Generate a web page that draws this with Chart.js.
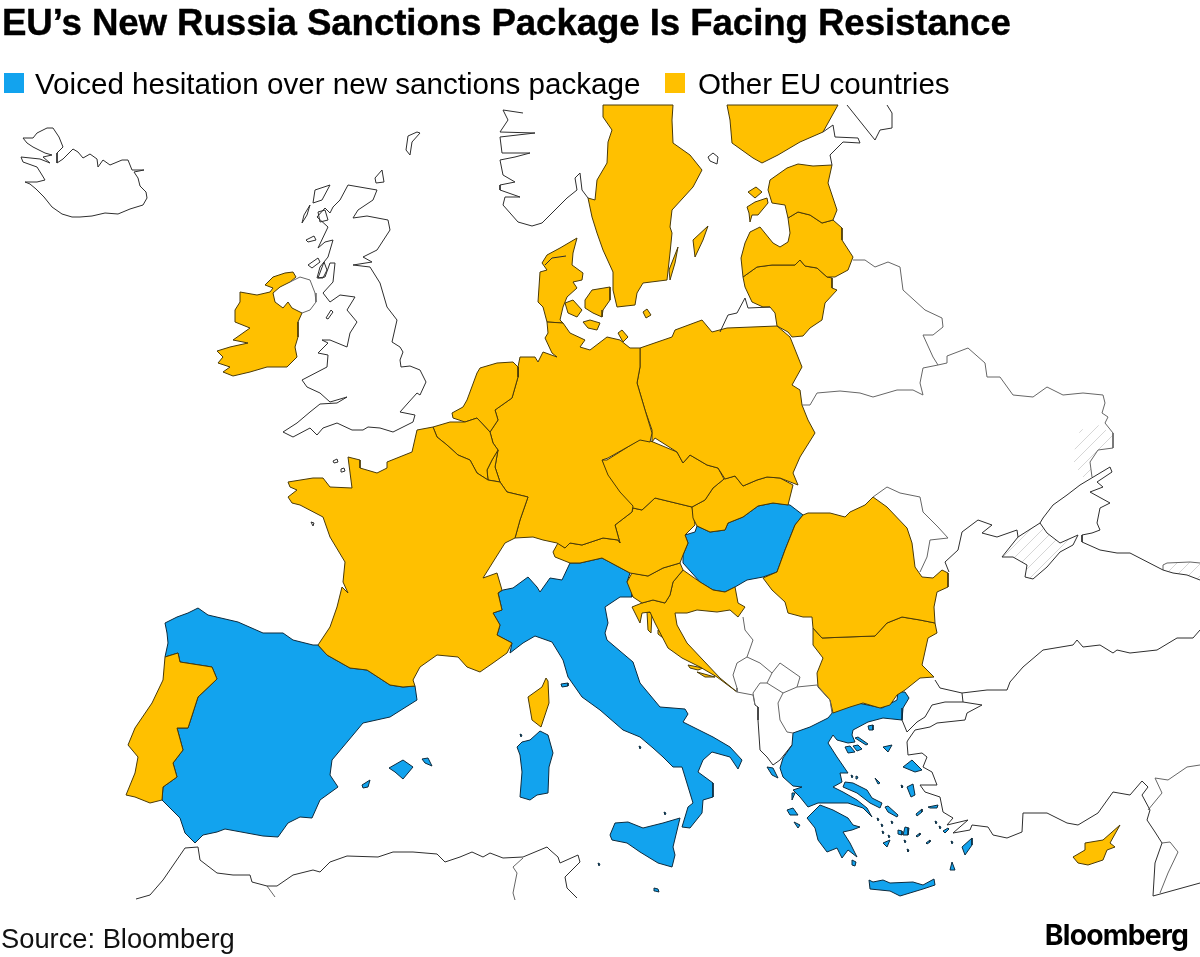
<!DOCTYPE html>
<html>
<head>
<meta charset="utf-8">
<title>EU's New Russia Sanctions Package Is Facing Resistance</title>
<script src="https://cdn.jsdelivr.net/npm/chart.js@4"></script>
<style>
  html, body { margin: 0; background: #fff; }
  body { width: 1200px; height: 957px; position: relative; overflow: hidden; font-family: "Liberation Sans", Arial, sans-serif; color: #000; }
  #map { position: absolute; left: 0; top: 0; }
  #title { position: absolute; left: 2px; top: 1px; font-size: 36.7px; line-height: 44px; font-weight: 700; white-space: nowrap; letter-spacing: -0.1px; -webkit-text-stroke: 0.4px #000; }
  #legend { position: absolute; left: 0; top: 66px; height: 36px; font-size: 29.6px; line-height: 36px; white-space: nowrap; }
  #legend span { position: absolute; top: 0; }
  #legend i { position: absolute; top: 7px; width: 20px; height: 20px; }
  #source { position: absolute; left: 1px; top: 922px; font-size: 27.3px; line-height: 34px; color: #111; }
  #brand { position: absolute; right: 12px; top: 917px; font-size: 28.3px; line-height: 36px; font-weight: 700; font-family: Inter, "Liberation Sans", sans-serif; letter-spacing: -0.8px; }
</style>
</head>
<body>
<canvas id="map" width="1200" height="957"></canvas>
<div id="title">EU’s New Russia Sanctions Package Is Facing Resistance</div>
<div id="legend"></div>
<div id="source">Source: Bloomberg</div>
<div id="brand">Bloomberg</div>
<script>
const BLUE = '#12a3ee';
const GOLD = '#ffc000';

const legendLabels = ['Voiced hesitation over new sanctions package', 'Other EU countries'];
const legendColors = [BLUE, GOLD];
const legendBoxX = [4, 665];
const legendTextX = [35, 698];

// outlines, in map units (x right, y down)
const spain = [[165,623],[177,617],[188,613],[198,608],[208,615],[238,622],[263,633],[283,633],[293,640],[313,645],[318,645],[327,655],[350,668],[367,670],[390,685],[403,687],[415,686],[417,700],[390,717],[363,723],[353,735],[332,760],[330,775],[338,787],[320,800],[312,818],[300,817],[288,823],[278,837],[263,836],[225,829],[217,832],[203,835],[195,843],[185,833],[180,818],[162,800],[163,787],[177,777],[173,763],[183,750],[177,728],[188,728],[198,697],[217,679],[212,667],[180,662],[178,653],[165,657],[168,643],[167,633]];
const mallorca = [[389,768],[403,760],[413,767],[403,779],[395,772]];
const menorca = [[422,759],[428,758],[432,766],[425,763]];
const ibiza = [[362,785],[370,780],[368,787],[363,788]];
const italy = [[503,590],[513,588],[528,577],[537,587],[540,592],[550,578],[562,580],[570,563],[580,563],[602,558],[630,573],[627,582],[632,588],[632,597],[620,597],[605,607],[608,623],[605,633],[607,640],[633,662],[640,683],[660,707],[685,709],[688,714],[683,722],[713,737],[730,747],[742,760],[738,769],[730,757],[712,752],[703,760],[698,772],[713,783],[713,797],[703,800],[702,813],[690,828],[682,827],[688,807],[693,803],[682,767],[673,767],[663,757],[653,748],[640,737],[623,730],[600,710],[582,697],[568,677],[563,660],[552,642],[535,636],[523,643],[510,653],[512,643],[497,635],[500,625],[493,613],[502,610],[498,593]];
const sicily = [[610,835],[615,823],[628,822],[643,828],[663,823],[680,818],[673,847],[675,855],[672,867],[658,863],[640,852],[627,843],[612,840]];
const sardinia = [[517,747],[522,742],[530,740],[540,731],[548,735],[553,753],[549,767],[548,793],[537,795],[530,800],[520,797],[522,772],[520,755]];
const elba = [[561,684],[568,683],[568,686],[562,687]];
const malta = [[654,888],[658,889],[659,892],[655,891]];
const hungary = [[697,526],[710,532],[725,530],[728,523],[743,517],[758,506],[773,503],[790,505],[803,515],[795,525],[785,550],[777,572],[763,577],[747,580],[735,587],[725,592],[713,590],[700,582],[683,563],[683,555],[688,543],[685,535],[695,532]];
const greece = [[833,712],[858,703],[882,708],[897,700],[898,692],[905,692],[909,698],[903,708],[902,720],[883,718],[868,722],[853,730],[852,735],[855,742],[848,743],[837,740],[833,735],[828,743],[837,757],[848,773],[840,773],[842,782],[833,787],[843,792],[857,800],[867,808],[872,817],[863,808],[848,803],[833,803],[818,803],[808,807],[800,797],[793,790],[802,787],[793,786],[783,777],[780,768],[783,758],[792,745],[793,733],[810,727],[828,718]];
const peloponnese = [[807,818],[820,805],[833,810],[848,818],[853,825],[860,827],[852,830],[843,832],[850,843],[857,857],[848,850],[842,858],[837,848],[827,852],[818,840],[815,828]];
const euboea = [[845,782],[853,783],[867,790],[872,798],[882,803],[880,808],[870,803],[857,793],[843,787]];
const crete = [[869,880],[873,882],[883,880],[890,883],[913,882],[923,885],[934,879],[935,885],[923,889],[900,896],[890,891],[870,889]];
const lesbos = [[903,767],[912,760],[922,770],[915,772]];
const chios = [[907,787],[913,784],[915,795],[911,797]];
const samos = [[928,807],[938,805],[937,808],[930,808]];
const rhodes = [[962,847],[972,838],[972,845],[965,855]];
const karpathos = [[952,862],[955,870],[950,870]];
const lemnos = [[883,747],[892,745],[888,752]];
const thasos = [[868,726],[873,725],[873,730],[869,730]];
const skyros = [[875,778],[880,783],[878,784]];
const andros = [[885,807],[888,806],[898,815],[897,817],[888,812]];
const ikaria = [[916,814],[922,809],[922,812],[917,816]];
const naxos = [[905,827],[909,828],[908,835],[903,835]];
const paros = [[898,830],[902,831],[902,835],[898,834]];
const milos = [[883,843],[890,840],[887,847]];
const kythira = [[852,860],[856,862],[855,866],[852,865]];
const corfu = [[767,767],[773,768],[778,778],[772,775]];
const kefalonia = [[787,810],[793,808],[798,815],[790,815]];
const zakynthos = [[794,822],[800,825],[798,828]];
const lefkada = [[792,793],[795,793],[792,800]];
const chalkidikiA = [[845,747],[850,746],[855,752],[848,753]];
const chalkidikiB = [[853,746],[858,745],[862,749],[857,751]];
const chalkidikiC = [[855,738],[858,737],[868,744],[866,745]];
// small islets, as tiny outlines
const isletA = [[935,821],[937,822],[936,824]];
const isletB = [[939,826],[941,827],[940,829]];
const kos = [[943,831],[948,828],[949,829],[945,833]];
const isletC = [[951,841],[953,842],[952,844]];
const isletD = [[926,843],[930,840],[930,842],[927,844]];
const isletE = [[916,836],[920,833],[920,835],[917,837]];
const isletF = [[907,849],[909,850],[908,852]];
const isletG = [[904,840],[906,841],[905,843]];
const isletH = [[888,835],[890,836],[889,838]];
const isletI = [[882,831],[884,832],[883,834]];
const isletJ = [[891,821],[893,822],[892,824]];
const isletK = [[881,824],[883,825],[882,827]];
const isletL = [[877,818],[879,819],[878,821]];
const isletM = [[901,785],[903,786],[902,788]];
const isletN = [[851,775],[853,776],[852,778]];
const isletO = [[856,776],[858,777],[857,779]];
const pantelleria = [[598,863],[600,864],[599,866]];
const ustica = [[664,812],[666,813],[665,815]];
const ponza = [[639,746],[641,747],[640,749]];
const asinara = [[520,734],[522,735],[521,737]];

const portugal = [[165,657],[178,653],[180,662],[212,667],[217,679],[198,697],[188,728],[177,728],[183,750],[173,763],[177,777],[163,787],[162,800],[150,803],[135,797],[126,795],[135,773],[138,757],[128,745],[135,728],[152,703],[163,680]];
const france = [[288,482],[313,478],[323,478],[330,487],[352,488],[348,457],[360,460],[360,468],[377,473],[387,468],[387,462],[412,452],[417,430],[433,427],[437,437],[447,445],[458,455],[470,460],[477,473],[488,480],[500,482],[507,492],[528,497],[520,520],[515,538],[505,543],[493,562],[483,578],[497,573],[502,590],[498,593],[502,610],[493,613],[500,625],[497,635],[512,643],[507,653],[493,663],[480,672],[467,667],[458,657],[437,655],[420,667],[413,680],[415,686],[403,687],[390,685],[367,670],[350,668],[327,655],[318,645],[330,627],[337,607],[342,587],[348,593],[343,582],[345,562],[330,537],[323,517],[300,505],[292,503],[288,497],[297,490],[290,487]];
const corsica = [[528,697],[542,687],[546,678],[548,681],[549,703],[541,727],[532,720]];
const belgium = [[433,427],[450,422],[465,422],[477,418],[490,432],[493,443],[498,450],[492,460],[487,470],[488,480],[477,473],[470,460],[458,455],[447,445],[437,437]];
const luxembourg = [[492,460],[498,450],[495,467],[500,482],[488,480],[487,470]];
const netherlands = [[467,400],[477,373],[480,368],[497,363],[513,362],[518,367],[518,377],[512,398],[495,410],[498,420],[490,432],[477,418],[465,422],[453,418],[452,413],[463,407]];
const germany = [[640,348],[630,348],[620,340],[607,337],[590,350],[580,347],[585,340],[570,333],[563,323],[547,322],[548,333],[545,338],[552,353],[557,357],[543,352],[538,362],[535,357],[520,357],[518,367],[518,377],[512,398],[495,410],[498,420],[490,432],[493,443],[498,450],[495,467],[500,482],[507,492],[528,497],[520,520],[515,538],[533,537],[543,540],[557,543],[565,548],[570,543],[582,545],[603,538],[618,540],[620,543],[615,525],[632,512],[633,506],[620,492],[608,475],[602,460],[608,458],[640,440],[650,442],[652,433],[645,410],[637,383],[640,367]];
const poland = [[640,348],[672,337],[675,330],[702,320],[712,332],[727,328],[777,326],[790,337],[802,367],[792,385],[800,390],[802,405],[808,420],[815,433],[800,457],[793,473],[798,485],[780,478],[767,477],[757,480],[743,486],[735,476],[725,479],[718,468],[707,465],[690,455],[683,463],[677,452],[655,438],[652,442],[652,430],[645,410],[637,383],[640,367]];
const czechia = [[602,460],[607,460],[642,438],[653,442],[677,452],[683,463],[690,455],[707,465],[718,468],[724,479],[713,488],[705,500],[692,507],[655,498],[642,510],[633,508],[622,495],[608,482]];
const slovakia = [[692,507],[705,500],[713,488],[724,479],[735,476],[743,486],[757,480],[767,477],[780,478],[793,485],[788,505],[773,503],[758,506],[743,517],[728,523],[725,530],[710,532],[697,526],[693,518]];
const austria = [[633,508],[642,510],[655,498],[692,507],[695,525],[685,535],[688,543],[683,555],[680,563],[663,568],[648,576],[630,573],[602,558],[580,563],[570,563],[555,557],[553,552],[558,543],[565,548],[570,543],[582,545],[603,538],[618,540],[620,543],[615,525],[632,512]];
const slovenia = [[632,573],[648,576],[663,568],[680,563],[683,570],[673,582],[670,595],[665,603],[653,600],[642,603],[633,597],[627,582]];
const croatia = [[683,570],[700,582],[713,590],[725,592],[735,587],[738,603],[745,607],[738,617],[730,610],[717,612],[697,610],[687,613],[675,613],[677,625],[687,643],[703,660],[720,678],[737,692],[717,677],[700,667],[682,658],[668,648],[655,623],[650,612],[642,613],[640,623],[632,607],[642,603],[653,600],[665,603],[670,595],[673,582]];
const krk = [[647,612],[652,613],[651,633],[648,630]];
const pag = [[658,630],[668,639],[667,641],[658,634]];
const brac = [[688,665],[703,668],[698,670],[690,668]];
const korcula = [[697,672],[715,677],[705,677]];
const romania = [[803,515],[808,513],[830,513],[845,517],[850,512],[865,505],[873,497],[887,507],[907,528],[912,543],[915,567],[922,577],[933,578],[942,570],[948,573],[948,587],[937,592],[934,607],[935,623],[920,620],[902,617],[887,623],[875,636],[847,637],[822,638],[813,628],[812,617],[803,617],[788,613],[785,602],[772,590],[763,578],[777,572],[785,550],[795,525]];
const bulgaria = [[813,628],[822,638],[847,637],[875,636],[887,623],[902,617],[920,620],[935,623],[937,633],[928,638],[922,665],[934,677],[920,678],[905,690],[897,695],[890,705],[880,708],[863,703],[850,707],[833,713],[830,700],[818,687],[817,673],[823,658],[813,645]];
const ireland = [[265,285],[273,277],[285,273],[293,272],[296,277],[290,282],[280,287],[273,293],[275,302],[283,308],[288,302],[292,308],[302,313],[298,322],[298,337],[295,347],[297,357],[287,367],[267,367],[250,372],[233,376],[223,372],[230,367],[218,363],[223,357],[217,351],[230,347],[248,343],[233,340],[250,328],[235,322],[235,310],[240,302],[240,292],[257,295],[270,292],[273,288]];
const sweden = [[603,105],[673,105],[672,120],[673,143],[690,155],[702,170],[693,187],[683,198],[672,210],[670,227],[672,233],[670,253],[667,280],[643,283],[637,293],[635,305],[617,307],[613,290],[613,272],[603,250],[597,233],[592,217],[588,198],[595,200],[597,180],[607,163],[608,142],[612,130],[603,117]];
const gotland = [[693,240],[708,226],[703,240],[695,257]];
const oland = [[678,247],[675,263],[670,280],[669,270]];
const finland = [[727,105],[838,105],[823,132],[800,142],[778,155],[762,163],[753,158],[732,143],[730,120]];
const estonia = [[832,165],[828,183],[837,210],[833,220],[822,223],[810,215],[798,212],[788,218],[785,205],[772,203],[768,190],[770,180],[787,168],[798,164],[813,166]];
const hiiumaa = [[748,192],[756,187],[762,192],[755,198]];
const saaremaa = [[747,207],[755,202],[767,198],[768,203],[758,215],[752,215],[750,222],[749,213]];
const latvia = [[788,218],[798,212],[810,215],[822,223],[833,220],[842,228],[842,240],[853,257],[848,270],[835,277],[827,277],[817,268],[805,266],[800,260],[795,265],[772,265],[757,267],[743,277],[741,258],[745,243],[750,232],[760,227],[773,243],[780,247],[788,242],[790,233]];
const lithuania = [[743,277],[757,267],[772,265],[795,265],[800,260],[805,266],[817,268],[827,277],[832,278],[832,288],[837,290],[825,303],[822,320],[810,328],[803,336],[792,337],[788,332],[777,326],[775,313],[770,307],[763,307],[752,302],[745,287]];
const jutland = [[538,302],[540,272],[547,270],[542,263],[547,255],[560,248],[577,238],[573,253],[572,265],[583,273],[582,280],[573,282],[577,288],[567,297],[563,307],[560,320],[563,323],[547,322],[543,307]];
const fyn = [[565,303],[573,300],[582,310],[577,317],[568,313]];
const zealand = [[585,300],[592,290],[610,287],[610,300],[603,310],[602,317],[593,313],[585,308]];
const lolland = [[583,322],[590,320],[600,323],[597,330],[588,328]];
const bornholm = [[643,312],[647,309],[651,315],[646,318]];
const rugen = [[618,333],[622,330],[628,337],[623,342]];
const cyprus = [[1073,857],[1085,850],[1085,843],[1103,840],[1120,825],[1110,843],[1115,847],[1107,850],[1103,860],[1088,865],[1078,863]];

const crimea = [[1018,537],[1040,523],[1047,533],[1060,543],[1078,535],[1073,545],[1060,552],[1047,567],[1033,579],[1025,577],[1027,565],[1013,557],[1002,557]];
const donbas = [[1080,430],[1098,425],[1113,435],[1113,448],[1098,450],[1090,462],[1092,477],[1082,477],[1073,460],[1075,448]];
const abkhazia = [[1163,565],[1167,563],[1190,562],[1200,563],[1200,580],[1187,575],[1173,573],[1163,570]];

// coasts and borders of countries outside the EU
const iceland = [[25,182],[37,182],[45,180],[42,175],[37,167],[23,162],[21,157],[40,159],[50,163],[43,157],[52,155],[45,153],[33,147],[27,143],[23,138],[33,138],[37,133],[47,128],[53,128],[59,137],[63,147],[57,153],[57,163],[63,159],[73,149],[78,152],[83,158],[90,154],[97,159],[98,167],[103,160],[110,165],[122,160],[128,160],[132,170],[144,170],[134,172],[138,178],[140,186],[146,192],[147,198],[143,205],[130,209],[118,214],[105,213],[92,216],[80,217],[72,217],[62,214],[52,207],[44,197],[36,189],[30,184],[25,182]];
const britain = [[348,185],[377,190],[373,200],[358,210],[353,218],[367,216],[388,220],[390,230],[377,250],[363,257],[372,262],[353,265],[370,267],[380,283],[387,307],[397,320],[392,342],[400,347],[403,352],[400,360],[401,367],[410,366],[420,370],[426,382],[420,395],[417,393],[408,403],[400,412],[415,415],[413,422],[393,432],[380,428],[368,427],[363,430],[352,430],[337,423],[323,428],[317,435],[310,428],[293,437],[283,432],[297,423],[310,412],[320,404],[337,403],[347,397],[330,402],[320,393],[307,387],[302,380],[327,367],[328,355],[318,353],[328,343],[322,340],[330,340],[347,347],[350,333],[357,322],[347,310],[355,297],[340,295],[330,302],[323,293],[333,282],[335,263],[330,263],[325,277],[317,278],[320,267],[328,257],[333,240],[325,242],[318,248],[328,227],[317,217],[325,208],[330,213],[333,207],[340,200],[348,185]];
const northernIreland = [[290,282],[300,277],[310,280],[315,293],[316,302],[310,310],[302,313]];
const lewis = [[330,185],[315,190],[313,203],[322,200],[330,185]];
const uist = [[302,223],[304,215],[310,205],[307,215],[302,223]];
const skye = [[318,212],[325,210],[328,220],[320,222],[318,212]];
const mull = [[306,240],[314,236],[316,240],[308,242],[306,240]];
const islay = [[308,265],[318,258],[320,262],[312,268],[308,265]];
const arran = [[318,278],[324,262],[327,270],[323,278],[318,278]];
const orkney = [[375,178],[382,170],[384,182],[376,183],[375,178]];
const man = [[326,318],[331,310],[333,312],[328,319],[326,318]];
const jersey = [[333,461],[337,459],[338,462],[334,463],[333,461]];
const guernsey = [[341,469],[344,468],[345,471],[342,472],[341,469]];
const oleron = [[311,522],[314,523],[313,526],[311,522]];
const norway = [[523,113],[503,110],[508,120],[500,132],[535,133],[500,137],[502,153],[530,153],[515,157],[500,160],[503,175],[515,182],[500,185],[500,190],[520,197],[505,197],[503,205],[518,222],[532,226],[542,223],[557,208],[567,198],[577,190],[575,178],[580,173],[582,190],[588,198]];
const shetland = [[408,136],[417,132],[420,133],[412,142],[410,155],[406,150],[408,136]];
const aland = [[708,157],[713,153],[718,157],[717,164],[710,161],[708,157]];
const limfjord = [[545,265],[552,258],[566,256]];
const kaliningrad = [[720,332],[728,315],[737,313],[745,298],[748,308],[770,307]];
const kolaLine = [[847,105],[867,130],[875,140],[880,130],[892,128],[892,113],[887,105]];
const gulfFinland = [[823,132],[833,125],[835,137],[858,138],[860,143],[843,142],[830,155],[832,165]];
const belarus = [[853,260],[865,260],[875,267],[888,262],[900,267],[903,290],[925,310],[942,318],[943,327],[933,335],[923,335],[933,357],[938,365],[923,368],[920,383],[923,395],[913,390],[897,390],[873,397],[860,393],[840,391],[817,393],[810,405],[802,405]];
const ukraineNorth = [[938,365],[947,363],[947,356],[968,348],[985,363],[987,377],[1000,377],[1013,395],[1033,397],[1047,387],[1063,395],[1083,393],[1103,395],[1105,403],[1102,413],[1108,417],[1105,423],[1113,433],[1113,448],[1098,450],[1090,462],[1092,477]];
const azovNorth = [[1110,467],[1112,472],[1097,482],[1103,487],[1090,492],[1110,503],[1100,508],[1097,523],[1100,530],[1092,533],[1082,535],[1082,542],[1100,550],[1117,553],[1130,553],[1163,570],[1173,573],[1187,575],[1200,580]];
const azovCoast = [[1110,467],[1080,485],[1067,495],[1053,505],[1043,518],[1040,523]];
const crimeaCoast = [[1018,537],[1040,523],[1047,533],[1060,543],[1078,535],[1073,545],[1060,552],[1047,567],[1033,579],[1025,577],[1027,565],[1013,557],[1002,557],[1018,537]];
const ukraineCoast = [[1018,537],[1017,530],[997,537],[982,533],[992,525],[978,520],[962,532],[958,550],[945,562],[949,572]];
const abkhaziaLine = [[1163,570],[1163,565],[1167,563],[1190,562],[1200,563]];
const moldova = [[873,497],[887,487],[900,493],[920,497],[923,512],[938,527],[948,538],[930,540],[927,557],[920,572]];
const turkeyNorth = [[935,680],[940,688],[962,693],[987,690],[1007,690],[1010,682],[1023,667],[1043,650],[1073,645],[1077,640],[1083,647],[1100,645],[1113,653],[1117,650],[1130,653],[1157,650],[1177,638],[1193,638],[1200,630]];
const thrace = [[962,693],[963,702],[982,705],[967,713],[965,720],[937,723],[930,727],[915,730],[908,740],[907,742],[908,755],[922,753],[927,757],[923,767],[932,772],[937,785],[920,785],[925,792],[940,797],[943,812],[953,818],[947,825],[968,820],[953,833],[970,830],[972,825],[988,827],[993,835],[1007,838],[1022,832],[1023,813],[1047,813],[1067,823],[1078,825],[1098,813],[1113,792],[1130,795],[1142,781],[1148,787],[1142,795],[1150,810],[1147,820],[1155,832],[1162,843],[1155,863],[1153,896],[1200,883]];
const europeanTurkey = [[963,702],[945,702],[932,705],[925,717],[917,722],[907,732],[902,720]];
const syria = [[1148,810],[1162,793],[1155,778],[1168,780],[1187,767],[1200,765]];
const lebanon = [[1162,843],[1170,842],[1178,852],[1168,873],[1160,893]];
const bosniaSerbia = [[743,617],[745,630],[753,640],[747,657]];
const montenegro = [[747,657],[737,663],[733,675],[737,688],[737,692],[753,695],[755,705]];
const montenegroEast = [[747,657],[760,663],[772,673],[767,683],[760,683],[753,693],[755,705]];
const kosovo = [[772,673],[780,663],[800,677],[797,687],[783,693],[767,683]];
const macedonia = [[797,687],[817,685],[830,700],[832,713]];
const macedoniaWest = [[783,693],[778,703],[780,720],[787,732],[793,733]];
const albania = [[755,705],[758,707],[758,720],[760,750],[767,757],[773,765],[780,760],[792,745]];
const morocco = [[136,899],[150,895],[163,880],[185,848],[198,847],[200,860],[217,873],[233,875],[250,875],[252,882],[267,886],[277,886],[293,875],[313,870],[320,872],[330,862],[347,856],[378,857],[393,852],[413,852],[437,854],[445,862],[460,857],[472,852],[483,857],[490,853],[503,858],[523,857],[547,847],[550,850],[558,857],[560,863],[578,855],[580,862],[565,877],[567,888],[577,898]];
const moroccoAlgeria = [[267,886],[275,897]];
const algeriaTunisia = [[523,858],[513,867],[517,873],[513,893],[515,900]];

const hesitantShapes = [spain, mallorca, menorca, ibiza, italy, sicily, sardinia, elba, malta, hungary, greece, peloponnese, euboea, crete, lesbos, chios, samos, rhodes, karpathos, lemnos, thasos, skyros, andros, ikaria, naxos, paros, milos, kythira, corfu, kefalonia, zakynthos, lefkada, chalkidikiA, chalkidikiB, chalkidikiC, isletA, isletB, kos, isletC, isletD, isletE, isletF, isletG, isletH, isletI, isletJ, isletK, isletL, isletM, isletN, isletO, pantelleria, ustica, ponza, asinara];
const otherEuShapes = [portugal, france, corsica, belgium, luxembourg, netherlands, germany, poland, czechia, slovakia, austria, slovenia, croatia, krk, pag, brac, korcula, romania, bulgaria, ireland, sweden, gotland, oland, finland, estonia, hiiumaa, saaremaa, latvia, lithuania, jutland, fyn, zealand, lolland, bornholm, rugen, cyprus];
const hatchedShapes = [crimea, donbas, abkhazia];
const coastLines = [iceland, britain, lewis, uist, skye, mull, islay, arran, orkney, man, jersey, guernsey, oleron, norway, shetland, aland, limfjord, kaliningrad, kolaLine, gulfFinland, azovNorth, azovCoast, crimeaCoast, ukraineCoast, turkeyNorth, thrace, europeanTurkey, morocco, albania];
const borderLines = [northernIreland, belarus, ukraineNorth, abkhaziaLine, moldova, syria, lebanon, bosniaSerbia, montenegro, montenegroEast, kosovo, macedonia, macedoniaWest, moroccoAlgeria, algeriaTunisia];

function toPoints(shape, closed) {
  const points = shape.map(p => ({ x: p[0], y: p[1] }));
  if (closed) points.push(points[0]);
  return points;
}

// diagonal grey stripes for the disputed areas
function hatchPattern() {
  const tile = document.createElement('canvas');
  tile.width = tile.height = 12;
  const c = tile.getContext('2d');
  c.strokeStyle = '#d6d6d6';
  c.lineWidth = 1;
  c.beginPath();
  c.moveTo(-1, 13); c.lineTo(13, -1);
  c.moveTo(-1, 1); c.lineTo(1, -1);
  c.moveTo(11, 13); c.lineTo(13, 11);
  c.stroke();
  return document.createElement('canvas').getContext('2d').createPattern(tile, 'repeat');
}

const datasets = [];
coastLines.forEach(s => datasets.push({ data: toPoints(s, false), borderColor: '#2e2e2e', borderWidth: 1, fill: false, order: 1 }));
borderLines.forEach(s => datasets.push({ data: toPoints(s, false), borderColor: '#666666', borderWidth: 1, fill: false, order: 1 }));
const hatch = hatchPattern();
hatchedShapes.forEach(s => datasets.push({ data: toPoints(s, true), borderColor: 'rgba(0,0,0,0)', borderWidth: 0, backgroundColor: hatch, fill: 'shape', order: 4 }));
otherEuShapes.forEach(s => datasets.push({ data: toPoints(s, true), borderColor: '#4a3a08', borderWidth: 1, backgroundColor: GOLD, fill: 'shape', order: 2 }));
hesitantShapes.forEach(s => datasets.push({ data: toPoints(s, true), borderColor: '#0c2a3d', borderWidth: 1, backgroundColor: BLUE, fill: 'shape', order: 3 }));

new Chart(document.getElementById('map'), {
  type: 'scatter',
  data: { datasets },
  options: {
    responsive: false,
    animation: false,
    events: [],
    layout: { padding: 0 },
    showLine: true,
    elements: { point: { radius: 0 }, line: { tension: 0, borderJoinStyle: 'round' } },
    plugins: { legend: { display: false }, title: { display: false }, tooltip: { enabled: false } },
    scales: {
      x: { type: 'linear', display: false, min: 0, max: 1200 },
      y: { type: 'linear', display: false, min: 0, max: 957, reverse: true }
    }
  }
});

// html legend, built from the same colours as the map
const legend = document.getElementById('legend');
legendLabels.forEach((label, i) => {
  const box = document.createElement('i');
  box.style.left = legendBoxX[i] + 'px';
  box.style.background = legendColors[i];
  const text = document.createElement('span');
  text.style.left = legendTextX[i] + 'px';
  text.textContent = label;
  legend.append(box, text);
});
</script>
</body>
</html>
